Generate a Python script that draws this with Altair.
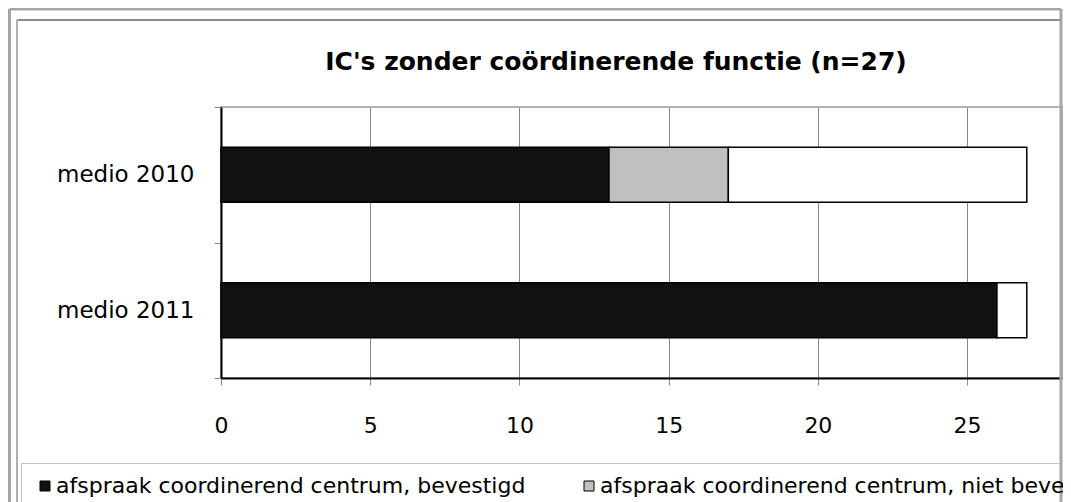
import altair as alt
import pandas as pd

categories = ["medio 2010", "medio 2011"]
series = [
    "afspraak coordinerend centrum, bevestigd",
    "afspraak coordinerend centrum, niet bevestigd",
    "geen afspraak coordinerend centrum",
]
bevestigd = [13, 26]
niet_bevestigd = [4, 0]
geen_afspraak = [10, 1]
colors = ["#111111", "#c0c0c0", "#ffffff"]
x_ticks = [0, 5, 10, 15, 20, 25]
title_text = "IC's zonder coördinerende functie (n=27)"

rows = []
for i, cat in enumerate(categories):
    for j, (s, vals) in enumerate(zip(series, [bevestigd, niet_bevestigd, geen_afspraak])):
        if vals[i] > 0:
            rows.append({"cat": cat, "series": s, "value": vals[i], "order": j})
df = pd.DataFrame(rows)

FONT = "DejaVu Sans"
W, H = 841, 271

bars = alt.Chart(df).mark_bar(size=55, stroke="black", strokeWidth=1.5).encode(
    y=alt.Y(
        "cat:N",
        sort=categories,
        scale=alt.Scale(paddingInner=0, paddingOuter=0),
        axis=alt.Axis(
            title=None, tickBand="extent", tickSize=7, tickColor="#888888",
            domainColor="black", domainWidth=2, labelFontSize=23, labelColor="black",
            labelPadding=20, grid=False, labelFont=FONT,
        ),
    ),
    x=alt.X(
        "value:Q",
        stack="zero",
        scale=alt.Scale(domain=[0, 28.18], nice=False, zero=True),
        axis=alt.Axis(
            title=None, values=x_ticks, grid=True, gridColor="#888888", gridWidth=1,
            tickSize=7, tickColor="#888888", domainColor="black", domainWidth=2,
            labelFontSize=22, labelColor="black", labelPadding=30, labelFont=FONT,
            labelFlush=False,
        ),
    ),
    color=alt.Color(
        "series:N",
        sort=series,
        scale=alt.Scale(domain=series, range=colors),
        legend=alt.Legend(
            title=None, orient="none", legendX=-187, legendY=368,
            direction="horizontal", symbolType="square", symbolSize=100,
            symbolStrokeColor="black", symbolStrokeWidth=1,
            labelFontSize=22, labelColor="black", labelLimit=700, labelFont=FONT,
            labelOffset=0, columnPadding=52, padding=0,
        ),
    ),
    order=alt.Order("order:Q"),
)

title = alt.Chart(pd.DataFrame({"t": [title_text]})).mark_text(
    font=FONT, fontWeight="bold", fontSize=25, align="center",
    baseline="alphabetic", color="black",
).encode(text="t:N", x=alt.value(395), y=alt.value(-37))

one = pd.DataFrame({"a": [0]})


def rule(color, width, x, y, x2=None, y2=None):
    enc = {"x": alt.value(x), "y": alt.value(y)}
    if x2 is not None:
        enc["x2"] = alt.value(x2)
    if y2 is not None:
        enc["y2"] = alt.value(y2)
    return alt.Chart(one).mark_rule(color=color, strokeWidth=width).encode(**enc)


frames = [
    # outer light frame
    rule("#a6a6a6", 3, -211.5, -98, x2=840),
    rule("#a6a6a6", 3, -211.5, -98, y2=420),
    rule("#a6a6a6", 3, 840, -98, y2=420),
    # inner frame
    rule("#666666", 1.5, -204, -87, x2=839),
    rule("#b0b0b0", 2, -204, -87, y2=420),
    # legend box
    rule("#c0c0c0", 1, -199.5, 356.5, x2=839),
    rule("#c0c0c0", 1, -199.5, 356.5, y2=420),
]

chart = alt.layer(*frames, bars, title).properties(
    width=W,
    height=H,
    autosize=alt.AutoSizeParams(type="none"),
    padding={"left": 213, "top": 99, "right": 1, "bottom": 124},
).configure(font=FONT).configure_view(stroke="#999999", strokeWidth=1.5)

chart.save("out.html", embed_options={"renderer": "svg", "actions": False})
